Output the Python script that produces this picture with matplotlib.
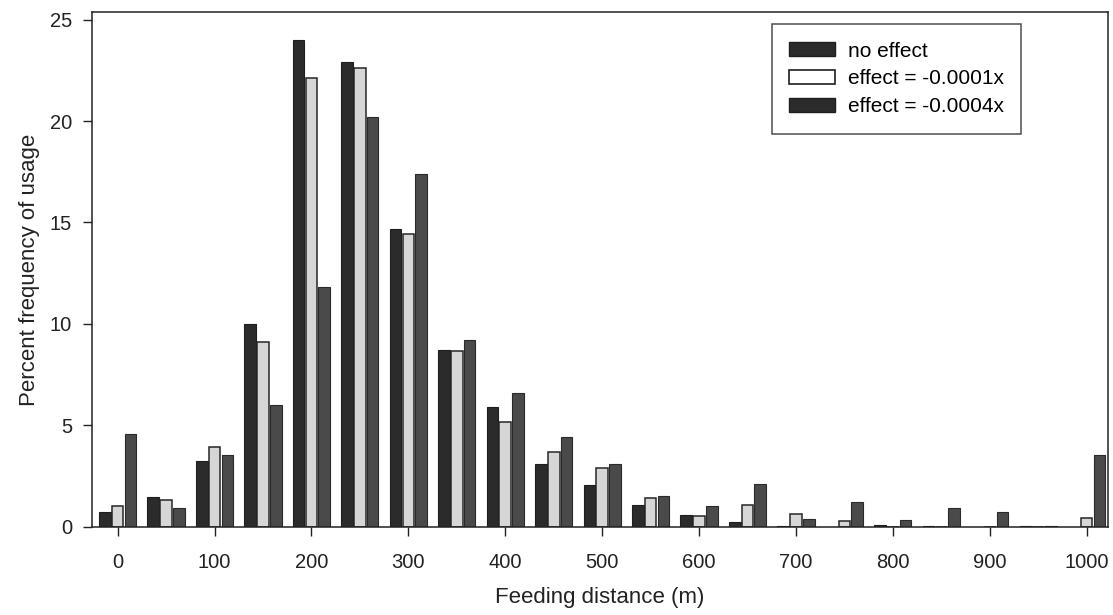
import numpy as np
import matplotlib.pyplot as plt
from matplotlib.patches import Patch

plt.rcParams['font.family'] = ['Liberation Sans', 'DejaVu Sans']

# feeding distance classes (m)
distance = np.arange(0, 1001, 50)

# percent frequency of usage for each model
no_effect = [0.75, 1.5, 3.25, 10.0, 24.0, 22.9, 14.7, 8.7, 5.9, 3.1, 2.05,
             1.1, 0.6, 0.25, 0.07, 0.0, 0.12, 0.07, 0.0, 0.05, 0.0]
effect_1 = [1.05, 1.35, 3.93, 9.13, 22.1, 22.6, 14.43, 8.65, 5.19, 3.71, 2.93,
            1.45, 0.55, 1.1, 0.62, 0.29, 0.0, 0.0, 0.0, 0.0, 0.45]
effect_4 = [4.6, 0.95, 3.55, 6.0, 11.8, 20.2, 17.4, 9.2, 6.58, 4.42, 3.1,
            1.55, 1.03, 2.1, 0.37, 1.25, 0.33, 0.95, 0.74, 0.05, 3.55]

labels = ['no effect', 'effect = -0.0001x', 'effect = -0.0004x']

fig = plt.figure(figsize=(11.13, 6.15), dpi=100)
ax = fig.add_axes([0.0827, 0.1431, 0.9128, 0.8374])

w = 12
step = 13.2
ax.bar(distance - step, no_effect, width=w, color='#2b2b2b',
       edgecolor='#1e1e1e', linewidth=0.8)
ax.bar(distance, effect_1, width=w, color='#d6d6d6',
       edgecolor='#262626', linewidth=1.1)
ax.bar(distance + step, effect_4, width=w, color='#4a4a4a',
       edgecolor='#2a2a2a', linewidth=0.8)

ax.set_xlim(-26.4, 1022)
ax.set_ylim(0, 25.37)
ax.set_xticks(np.arange(0, 1001, 100))
ax.set_yticks(np.arange(0, 26, 5))
ax.tick_params(axis='both', direction='out', length=6.5, width=1,
               labelsize=14.5, colors='#222222')
ax.tick_params(axis='x', pad=12)
ax.tick_params(axis='y', pad=8)
for s in ax.spines.values():
    s.set_linewidth(1.1)
    s.set_color('#222222')

ax.set_xlabel('Feeding distance (m)', fontsize=16, labelpad=11, color='#222222')
ax.set_ylabel('Percent frequency of usage', fontsize=16, labelpad=7, color='#222222')

handles = [Patch(facecolor='#2b2b2b', edgecolor='#1e1e1e'),
           Patch(facecolor='white', edgecolor='#1e1e1e', linewidth=1.2),
           Patch(facecolor='#2b2b2b', edgecolor='#1e1e1e')]
leg = ax.legend(handles, labels, loc='upper left', bbox_to_anchor=(0.669, 0.977),
                borderaxespad=0, fontsize=15, frameon=True, fancybox=False,
                edgecolor='#222222', handlelength=2.2, handleheight=0.65,
                handletextpad=0.6, labelspacing=0.42, borderpad=0.85)
leg.get_frame().set_linewidth(1.1)

fig.savefig('out.png', dpi=100)
